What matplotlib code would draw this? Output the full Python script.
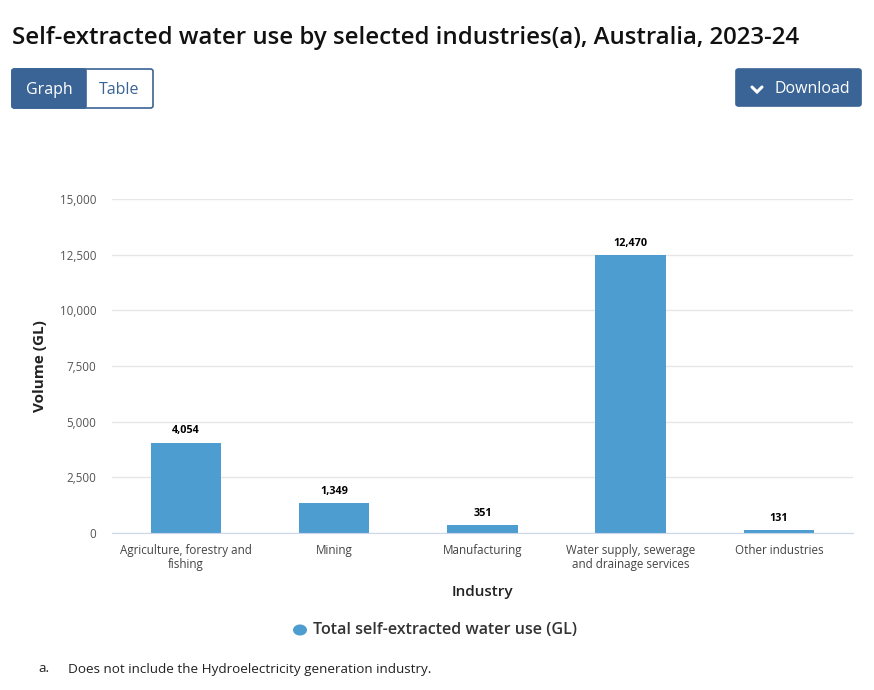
import matplotlib.pyplot as plt
from matplotlib.patches import FancyBboxPatch, Circle
from matplotlib.lines import Line2D
from matplotlib.ticker import FuncFormatter

plt.rcParams['font.family'] = ['Open Sans', 'DejaVu Sans']

categories = ["Agriculture, forestry and\nfishing", "Mining", "Manufacturing",
              "Water supply, sewerage\nand drainage services", "Other industries"]
values = [4054, 1349, 351, 12470, 131]
yticks = [0, 2500, 5000, 7500, 10000, 12500, 15000]

bar_color = "#4e9dd0"
btn_color = "#3a6496"

fig = plt.figure(figsize=(8.74, 6.9), dpi=100)
ax = fig.add_axes([0.128, 0.2275, 0.848, 0.4841])

x = range(len(categories))
bars = ax.bar(x, values, width=0.475, color=bar_color, zorder=3)
for b, v in zip(bars, values):
    ax.annotate(f"{v:,}", (b.get_x() + b.get_width() / 2, v), xytext=(0, 4.5),
                textcoords="offset points", ha="center", va="bottom",
                fontsize=7.8, fontweight="bold", color="black")

ax.set_xlim(-0.5, len(categories) - 0.5)
ax.set_ylim(0, 15000)
ax.set_yticks(yticks)
ax.yaxis.set_major_formatter(FuncFormatter(lambda v, p: f"{int(v):,}"))
ax.set_xticks(list(x))
ax.set_xticklabels(categories, fontsize=8.4, color="#444444", linespacing=1.1)
ax.tick_params(axis="y", labelsize=8.4, labelcolor="#555555", length=0, pad=11)
ax.tick_params(axis="x", length=0, pad=8)
ax.grid(axis="y", color="#e6e6e6", linewidth=1, zorder=0)
for s in ["top", "right", "left"]:
    ax.spines[s].set_visible(False)
ax.spines["bottom"].set_color("#ccd6eb")
ax.spines["bottom"].set_zorder(4)

ax.set_ylabel("Volume (GL)", fontsize=11, fontweight="bold", color="#222222", labelpad=9)
ax.set_xlabel("Industry", fontsize=11, fontweight="semibold", color="#222222", labelpad=10)

# title
fig.text(12 / 874, 1 - 38 / 690, "Self-extracted water use by selected industries(a), Australia, 2023-24",
         fontsize=17.3, fontweight="semibold", color="#111111", va="center", ha="left")

# buttons
def px_box(x0, y0, x1, y1, fc, ec):
    p = FancyBboxPatch((x0 / 874, 1 - y1 / 690), (x1 - x0) / 874, (y1 - y0) / 690,
                       boxstyle="round,pad=0,rounding_size=0.003", fc=fc, ec=ec, lw=1.2,
                       transform=fig.transFigure)
    fig.patches.append(p)

px_box(12, 69, 153, 108, "white", btn_color)
px_box(12, 69, 86, 108, btn_color, btn_color)
fig.text(49 / 874, 1 - 90 / 690, "Graph", fontsize=11.5, color="white", ha="center", va="center")
fig.text(119 / 874, 1 - 90 / 690, "Table", fontsize=11.5, color=btn_color, ha="center", va="center")
px_box(736, 69, 861, 106, btn_color, btn_color)
fig.text(812 / 874, 1 - 89 / 690, "Download", fontsize=11.5, color="white", ha="center", va="center")
chev_x = [752 / 874, 757 / 874, 762 / 874]
chev_y = [1 - 87 / 690, 1 - 92 / 690, 1 - 87 / 690]
fig.lines.append(Line2D(chev_x, chev_y, transform=fig.transFigure, color="white", lw=2.2,
                        solid_capstyle="round", solid_joinstyle="miter"))

# legend
fig.patches.append(Circle((300 / 874, 1 - 630 / 690), 7 / 874, transform=fig.transFigure,
                          fc=bar_color, ec="none"))
fig.text(313 / 874, 1 - 630 / 690, "Total self-extracted water use (GL)", fontsize=11.6,
         fontweight="semibold", color="#333333", ha="left", va="center")

# footnote
fig.text(38 / 874, 1 - 669 / 690, "a.", fontsize=9.7, color="#222222", ha="left", va="center")
fig.text(68 / 874, 1 - 669 / 690, "Does not include the Hydroelectricity generation industry.",
         fontsize=9.7, color="#222222", ha="left", va="center")

fig.savefig("out.png", dpi=100)
